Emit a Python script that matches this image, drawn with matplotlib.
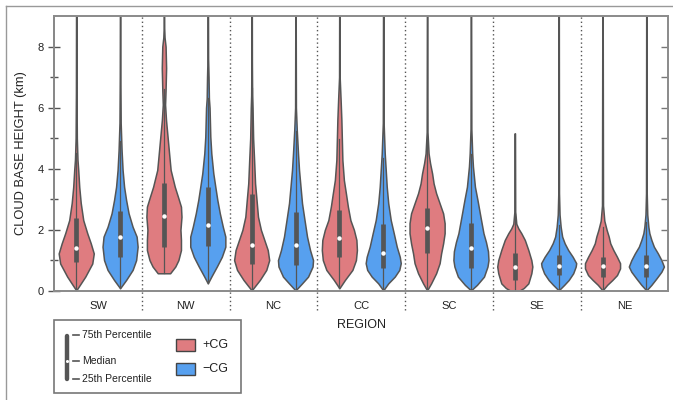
import numpy as np
import matplotlib
matplotlib.use("Agg")
import matplotlib.pyplot as plt
from matplotlib.patches import Rectangle

plt.rcParams['font.family'] = ['Liberation Sans', 'DejaVu Sans']

regions = ['SW', 'NW', 'NC', 'CC', 'SC', 'SE', 'NE']

# +CG violins: heights (km) and relative widths
pos_heights = [
    [0.02, 0.47, 0.9, 1.23, 1.56, 1.89, 2.32, 2.88, 3.41, 3.96, 4.3, 5.0, 6.5, 9.6],
    [0.58, 0.8, 1.01, 1.34, 1.67, 2.0, 2.43, 2.76, 3.09, 3.41, 3.96, 4.5, 5.05, 5.6, 6.1, 6.6, 7.3, 8.0, 8.3, 8.6, 9.6],
    [0.02, 0.36, 0.69, 1.01, 1.34, 1.67, 2.0, 2.43, 2.98, 3.52, 4.29, 5.0, 6.0, 6.4, 7.5, 9.6],
    [0.09, 0.36, 0.69, 1.01, 1.34, 1.67, 2.0, 2.32, 2.76, 3.2, 3.63, 4.29, 4.94, 5.6, 6.25, 7.0, 9.6],
    [0.02, 0.25, 0.58, 0.91, 1.23, 1.56, 1.89, 2.22, 2.54, 2.87, 3.2, 3.52, 3.85, 4.18, 4.5, 5.2, 9.6],
    [0.0, 0.1, 0.25, 0.58, 0.8, 1.01, 1.34, 1.67, 1.89, 2.05, 2.2, 2.6, 5.16],
    [0.02, 0.2, 0.36, 0.52, 0.74, 0.91, 1.12, 1.34, 1.56, 1.78, 2.0, 2.3, 2.8, 9.6],
]
pos_widths = [
    [0, 18, 32, 35, 29, 22, 14, 9, 6, 4, 2.5, 1.2, 0.6, 0.3],
    [12, 22, 28, 33, 33, 32, 34, 33, 27, 21, 13, 10, 7, 4, 2.2, 3.2, 4.2, 3.2, 1.2, 0.5, 0.3],
    [0, 16.7, 30, 36, 33, 26, 19, 13, 10, 7, 5, 3, 1.8, 1.0, 0.5, 0.3],
    [0, 11, 26, 33, 35, 34, 29, 22, 17, 13, 9, 6, 5, 4, 2.5, 0.6, 0.3],
    [0, 8, 18, 25, 28, 32, 35, 35, 32, 25, 18, 13, 10, 6, 3, 0.8, 0.3],
    [8, 18, 27, 33, 35, 33, 27, 20, 13, 7, 3, 0.8, 0.4],
    [0, 9, 19, 28, 34, 34, 28, 21, 15, 12, 8, 3.5, 1.0, 0.3],
]
pos_q1 = [0.96, 1.45, 0.88, 1.10, 1.23, 0.36, 0.47]
pos_median = [1.42, 2.45, 1.51, 1.72, 2.05, 0.78, 0.83]
pos_q3 = [2.38, 3.52, 3.18, 2.65, 2.71, 1.23, 1.12]

# -CG violins
neg_heights = [
    [0.09, 0.36, 0.69, 1.01, 1.45, 1.78, 2.1, 2.54, 2.98, 3.41, 3.96, 4.6, 5.5, 7.0, 9.6],
    [0.25, 0.47, 0.8, 1.12, 1.45, 1.78, 2.1, 2.54, 2.98, 3.41, 3.85, 4.5, 5.05, 6.0, 6.3, 7.0, 7.6, 9.6],
    [0.02, 0.25, 0.47, 0.8, 1.01, 1.34, 1.78, 2.32, 2.87, 3.41, 3.96, 4.5, 5.27, 6.0, 9.6],
    [0.02, 0.25, 0.47, 0.69, 0.91, 1.12, 1.45, 1.89, 2.32, 2.87, 3.41, 3.96, 4.5, 5.5, 9.6],
    [0.02, 0.2, 0.47, 0.8, 1.01, 1.3, 1.6, 1.89, 2.43, 2.98, 3.41, 4.07, 4.5, 5.3, 9.6],
    [0.02, 0.2, 0.36, 0.58, 0.8, 0.91, 1.12, 1.34, 1.56, 1.78, 2.1, 2.5, 3.2, 9.6],
    [0.02, 0.2, 0.41, 0.63, 0.8, 1.01, 1.23, 1.45, 1.67, 1.89, 2.1, 2.5, 3.2, 9.6],
]
neg_widths = [
    [0, 12, 25, 32, 35, 33, 25, 17, 12, 8, 5, 3, 1.2, 0.6, 0.3],
    [0, 7, 18, 28, 35, 35, 30, 24, 19, 15, 11, 7, 5, 3.5, 2.2, 1.5, 0.6, 0.3],
    [0, 13, 25, 34, 35, 29, 23, 18, 13, 10, 7, 5, 2.5, 0.8, 0.3],
    [0, 10, 23, 32, 35, 33, 27, 21, 15, 10, 7, 5, 3, 0.8, 0.3],
    [0, 12, 26, 33, 35, 34, 30, 25, 19, 13, 8, 4, 2.5, 0.8, 0.3],
    [0, 11, 20, 29, 34, 35, 28, 19, 12, 7, 4, 1.8, 0.7, 0.3],
    [0, 10, 20, 30, 35, 30, 23, 15, 10, 6, 4, 1.8, 0.7, 0.3],
]
neg_q1 = [1.12, 1.47, 0.85, 0.74, 0.74, 0.52, 0.47]
neg_median = [1.76, 2.16, 1.51, 1.25, 1.40, 0.83, 0.83]
neg_q3 = [2.63, 3.41, 2.60, 2.19, 2.24, 1.18, 1.18]

RED = '#DF7C80'
BLUE = '#57A0EF'
DARK = '#555555'

W, H = 673, 400
fig = plt.figure(figsize=(W / 100, H / 100), dpi=100)
ax = fig.add_axes([54.3 / W, 109 / H, 614 / W, 275 / H])


def draw_group(heights, widths, q1s, meds, q3s, offset, color):
    stats = []
    for h, w, m in zip(heights, widths, meds):
        stats.append(dict(coords=np.array(h, float), vals=np.array(w, float),
                          mean=m, median=m, min=min(h), max=max(h)))
    pos = np.arange(len(heights)) + offset
    parts = ax.violin(stats, positions=pos, widths=0.4, showmeans=False,
                      showextrema=False, showmedians=False)
    for b in parts['bodies']:
        b.set_facecolor(color)
        b.set_edgecolor(DARK)
        b.set_linewidth(1.1)
        b.set_alpha(1)
        b.set_zorder(2)
    for p, h, a, m, c in zip(pos, heights, q1s, meds, q3s):
        iqr = c - a
        lo = max(min(h), a - 1.5 * iqr)
        hi = min(max(h), c + 1.5 * iqr)
        ax.plot([p, p], [lo, hi], color=DARK, lw=0.9, zorder=3)
        ax.plot([p, p], [a, c], color=DARK, lw=3.4, solid_capstyle='butt', zorder=4)
        ax.plot([p], [m], 'o', color='white', markersize=3.2, markeredgewidth=0, zorder=5)


draw_group(pos_heights, pos_widths, pos_q1, pos_median, pos_q3, -0.25, RED)
draw_group(neg_heights, neg_widths, neg_q1, neg_median, neg_q3, 0.25, BLUE)

ax.set_xlim(-0.5, len(regions) - 0.5)
ax.set_ylim(0, 9)

for i in range(len(regions) - 1):
    ax.plot([i + 0.5, i + 0.5], [-0.62, 9], color=DARK, lw=1.0,
            ls=(0, (1, 2)), clip_on=False, zorder=1)

ax.set_xticks(range(len(regions)))
ax.set_xticklabels(regions, fontsize=8, color='#222222')
ax.tick_params(axis='x', length=0, pad=7)

ax.set_yticks([0, 2, 4, 6, 8])
ax.set_yticks([1, 3, 5, 7], minor=True)
ax.tick_params(axis='y', which='major', direction='inout', length=8, width=1,
               color=DARK, labelsize=8, labelcolor='#222222', pad=3.5)
ax.tick_params(axis='y', which='minor', direction='inout', length=6, width=1, color=DARK)

ax2 = ax.twinx()
ax2.set_ylim(0, 9)
ax2.set_yticks([1, 2, 3, 4, 5, 6, 7, 8])
ax2.tick_params(axis='y', direction='in', length=5, width=1, color='#777777', labelright=False)
ax2.patch.set_visible(False)

for a in (ax, ax2):
    for s in a.spines.values():
        s.set_color('#8c8c8c')
        s.set_linewidth(1.3)
ax.spines['left'].set_color('#666666')

ax.set_ylabel('CLOUD BASE HEIGHT (km)', fontsize=9.3, color='#222222')
ax.yaxis.set_label_coords(-0.044, 0.5)
ax.set_xlabel('REGION', fontsize=9, color='#222222')
ax.xaxis.set_label_coords(0.5, -0.1)

# overlay in pixel coordinates for frame and legend
ov = fig.add_axes([0, 0, 1, 1])
ov.set_xlim(0, W)
ov.set_ylim(H, 0)
ov.axis('off')
ov.plot([6, W], [6, 6], color='#999999', lw=1)
ov.plot([6, 6], [6, H], color='#999999', lw=1)

ov.add_patch(Rectangle((54.3, 320), 186.4, 73.3, fill=False, edgecolor='#777777', lw=1.2))
ov.plot([66.7, 66.7], [336, 379], color=DARK, lw=3.2, solid_capstyle='round')
ov.plot([66.7], [360.7], 'o', color='white', markersize=2.2, markeredgewidth=0)
for yy, txt in zip([335, 360.7, 379], ['75th Percentile', 'Median', '25th Percentile']):
    ov.plot([72.7, 79.3], [yy, yy], color=DARK, lw=1.2)
    ov.text(82.3, yy, txt, fontsize=7.5, va='center', ha='left', color='#222222')

ov.add_patch(Rectangle((175.7, 339), 19.3, 12, facecolor=RED, edgecolor='#444444', lw=1))
ov.add_patch(Rectangle((175.7, 363.3), 19.3, 12, facecolor=BLUE, edgecolor='#444444', lw=1))
ov.text(202.3, 345, '+CG', fontsize=9, va='center', ha='left', color='#222222')
ov.text(202.3, 369.3, '\u2212CG', fontsize=9, va='center', ha='left', color='#222222')

fig.savefig('out.png', dpi=100)
